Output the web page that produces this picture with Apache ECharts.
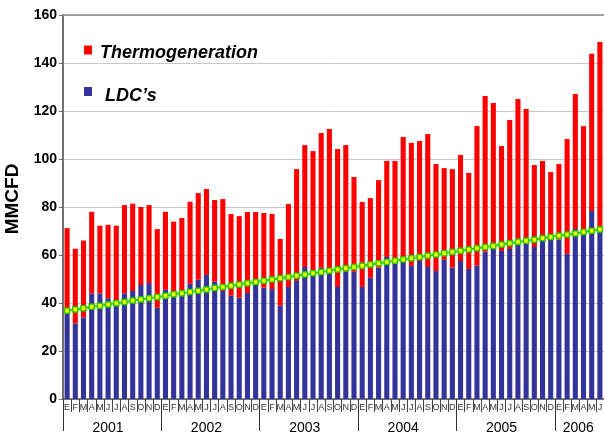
<!DOCTYPE html>
<html>
<head>
<meta charset="utf-8">
<style>
  html, body { margin: 0; padding: 0; background: #ffffff; }
  #chart { width: 604px; height: 438px; }
</style>
<script src="https://cdn.jsdelivr.net/npm/echarts@6/dist/echarts.min.js"></script>
</head>
<body>
<div id="chart"></div>
<script>
const monthNames = ['E','F','M','A','M','J','J','A','S','O','N','D'];
const years = ['2001','2002','2003','2004','2005','2006'];

const ldc = [
  36, 31.5, 34, 44, 44, 42, 41, 44, 45, 47.5, 48.3, 38,
  45.5, 44, 44.7, 48, 49.7, 51.7, 48.9, 45, 43, 42.2, 44.2, 47.5,
  46.4, 45.8, 38.9, 46.7, 49.2, 55, 53, 54.7, 52.2, 46.7, 53, 53,
  46.7, 50.5, 54.7, 59.2, 57, 57.2, 55.5, 57.5, 55, 53.3, 58, 54.7,
  57.5, 54.2, 55.5, 61.4, 63.3, 61.7, 62.5, 66.9, 66, 63.3, 67, 68.6,
  66.4, 60.5, 70.8, 70.4, 78.3, 71.4
];

const thermo = [
  35.2, 31.1, 32, 34, 28.2, 30.6, 31.2, 36.8, 36.4, 32.5, 32.5, 32.8,
  32.5, 29.9, 30.7, 34.2, 36.1, 35.8, 34, 38.3, 34.1, 34, 33.7, 30.4,
  31.1, 31.3, 27.8, 34.5, 46.6, 50.8, 50.3, 56.1, 60.3, 57.5, 52.8, 39.5,
  35.4, 33.2, 36.5, 40, 42.2, 52, 51.2, 50, 55.4, 44.6, 38.2, 41.1,
  44.2, 40, 58.2, 64.8, 60, 43.7, 53.7, 58.1, 54.8, 34.2, 32.2, 26,
  31.5, 47.8, 56.3, 43.3, 65.6, 77.3
];

const trend = [
  36.8, 37.3, 37.8, 38.4, 38.9, 39.4, 39.9, 40.4, 41.0, 41.5, 42.0, 42.5,
  43.0, 43.6, 44.1, 44.6, 45.1, 45.6, 46.2, 46.7, 47.2, 47.7, 48.2, 48.8,
  49.3, 49.8, 50.3, 50.8, 51.4, 51.9, 52.4, 52.9, 53.4, 54.0, 54.5, 55.0,
  55.5, 56.0, 56.6, 57.1, 57.6, 58.1, 58.6, 59.2, 59.7, 60.2, 60.7, 61.2,
  61.8, 62.3, 62.8, 63.3, 63.8, 64.4, 64.9, 65.4, 65.9, 66.4, 67.0, 67.5,
  68.0, 68.5, 69.0, 69.6, 70.1, 70.6
];

const months = ldc.map((_, i) => monthNames[i % 12]);
const categories = ldc.map((_, i) => years[Math.floor(i / 12)] + '-' + (i % 12 + 1));

const FONT = '"Liberation Sans", Arial, sans-serif';

const chart = echarts.init(document.getElementById('chart'), null, { renderer: 'canvas' });

chart.setOption({
  animation: false,
  backgroundColor: '#ffffff',
  textStyle: { fontFamily: FONT },
  grid: { left: 63, right: 0, top: 15, bottom: 39, containLabel: false, outerBoundsMode: 'none' },
  legend: {
    data: ['Thermogeneration', 'LDC\u2019s'],
    orient: 'vertical',
    left: 84,
    top: 38,
    padding: 0,
    icon: 'rect',
    itemWidth: 8,
    itemHeight: 9,
    itemGap: 16,
    selectedMode: false,
    formatter: function (name) {
      return name === 'Thermogeneration' ? '{t|' + name + '}' : '{l|' + name + '}';
    },
    textStyle: {
      fontFamily: FONT, fontSize: 18, fontWeight: 'bold', fontStyle: 'italic', color: '#000', lineHeight: 22,
      rich: {
        t: { fontFamily: FONT, fontSize: 18, fontWeight: 'bold', fontStyle: 'italic', color: '#000', lineHeight: 22, padding: [6, 0, 0, 3] },
        l: { fontFamily: FONT, fontSize: 18, fontWeight: 'bold', fontStyle: 'italic', color: '#000', lineHeight: 22, padding: [9, 0, 0, 8] }
      }
    }
  },
  xAxis: [
    {
      type: 'category',
      data: categories,
      position: 'bottom',
      boundaryGap: true,
      axisLine: { show: true, lineStyle: { color: '#555', width: 1.5 } },
      axisTick: { show: true, interval: 0, length: 13, lineStyle: { color: '#444', width: 1 } },
      axisLabel: {
        interval: 0,
        margin: 4,
        fontSize: 9,
        color: '#333',
        fontFamily: FONT,
        formatter: function (v, i) { return months[i]; }
      },
      splitLine: { show: false }
    },
    {
      type: 'category',
      data: categories,
      position: 'bottom',
      boundaryGap: true,
      axisLine: { show: false },
      axisTick: {
        show: true,
        interval: function (i) { return i % 12 === 0; },
        length: 32,
        lineStyle: { color: '#333', width: 1 }
      },
      axisLabel: {
        interval: function (i) { return i % 12 === 5 || i === 62; },
        margin: 22,
        fontSize: 14,
        color: '#000',
        fontFamily: FONT,
        formatter: function (v, i) {
          const y = years[Math.floor(i / 12)];
          return i === 62 ? '{p|' + y + '}' : y;
        },
        rich: { p: { fontSize: 14, color: '#000', fontFamily: FONT, padding: [0, 0, 0, 6] } }
      },
      splitLine: { show: false }
    }
  ],
  yAxis: {
    type: 'value',
    min: 0,
    max: 160,
    interval: 20,
    name: 'MMCFD',
    nameLocation: 'middle',
    nameGap: 38,
    nameRotate: 90,
    nameTextStyle: { fontFamily: FONT, fontSize: 19, fontWeight: 'bold', color: '#000', padding: [0, 0, 0, 16] },
    axisLine: { show: true, lineStyle: { color: '#707070', width: 2 } },
    axisTick: { show: true, length: 4, lineStyle: { color: '#707070' } },
    axisLabel: { fontFamily: FONT, fontSize: 14, fontWeight: 'bold', color: '#000', margin: 6 },
    splitLine: { show: true, lineStyle: { color: '#c8c8c8', width: 1 } }
  },
  series: [
    {
      name: 'LDC\u2019s',
      type: 'bar',
      stack: 'total',
      data: ldc,
      barCategoryGap: '38%',
      itemStyle: { color: '#333399' },
      xAxisIndex: 0,
      markLine: {
        silent: true,
        symbol: 'none',
        label: { show: false },
        lineStyle: { color: '#8a8a8a', type: 'solid', width: 1.5 },
        data: [{ yAxis: 160 }]
      }
    },
    {
      name: 'Thermogeneration',
      type: 'bar',
      stack: 'total',
      data: thermo,
      barCategoryGap: '38%',
      itemStyle: { color: '#ff0000' },
      xAxisIndex: 0
    },
    {
      name: 'Trend',
      type: 'line',
      data: trend,
      xAxisIndex: 0,
      symbol: 'rect',
      symbolSize: 5,
      showSymbol: true,
      lineStyle: { color: '#33cc00', width: 2 },
      itemStyle: { color: '#ffff00', borderColor: '#33cc00', borderWidth: 1.5 },
      z: 5
    }
  ]
});
</script>
</body>
</html>
